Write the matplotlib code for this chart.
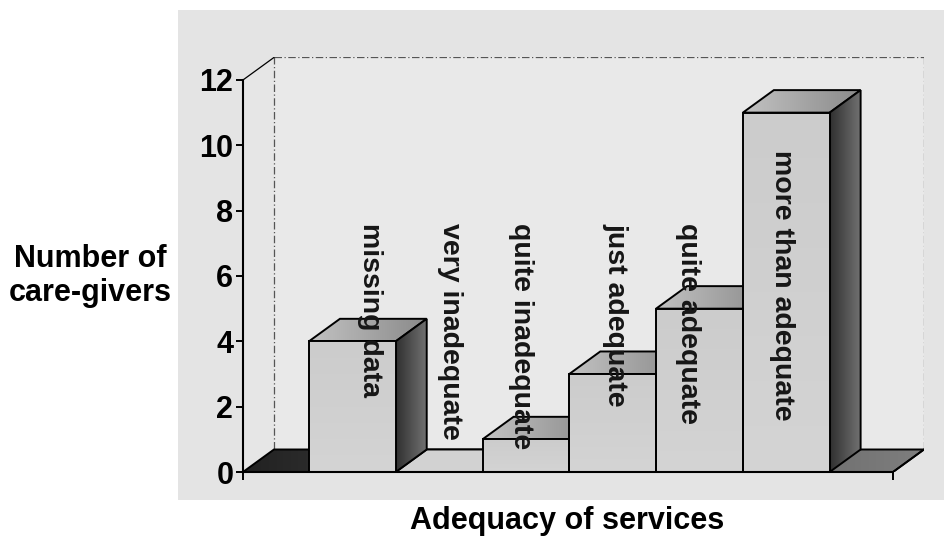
import matplotlib
matplotlib.use("Agg")
import matplotlib.pyplot as plt
from matplotlib.patches import Polygon, Rectangle
from matplotlib.colors import LinearSegmentedColormap
import numpy as np

# ---- data ----
categories = ["missing data", "very inadequate", "quite inadequate",
              "just adequate", "quite adequate", "more than adequate"]
counts = [4, 0, 1, 3, 5, 11]
y_ticks = [0, 2, 4, 6, 8, 10, 12]
x_title = "Adequacy of services"
y_title = "Number of\ncare-givers"

# ---- style / layout ----
plt.rcParams['font.family'] = ['Liberation Sans', 'DejaVu Sans']
W, H = 945, 537
fig = plt.figure(figsize=(W / 100, H / 100), dpi=100)
fig.patch.set_facecolor('white')
fig.patches.append(Rectangle((178 / W, 1 - 500 / H), (W - 178) / W, 490 / H,
                             transform=fig.transFigure, facecolor='#e4e4e4',
                             edgecolor='none', zorder=-5))

xmax = 7.49          # category axis length (data units)
ymax = 12
dx, dy = 0.357, 0.689  # 3D depth offset in data units
start = 0.76
bw = 1.0
px_x = 86.78
px_y = 32.67

ax = fig.add_axes([243 / W, 1 - 472 / H, (xmax + dx) * px_x / W, (ymax + dy) * px_y / H])
ax.patch.set_alpha(0)
ax.set_zorder(2)


def grad_poly(verts, c0, c1, direction='h', z=1, lw=1.4):
    poly = Polygon(verts, closed=True, facecolor='none', edgecolor='none', zorder=z)
    ax.add_patch(poly)
    xs = [v[0] for v in verts]
    ys = [v[1] for v in verts]
    g = np.linspace(0, 1, 128)
    arr = g[None, :] if direction == 'h' else g[:, None]
    cmap = LinearSegmentedColormap.from_list('g', [c0, c1])
    im = ax.imshow(arr, cmap=cmap, extent=(min(xs), max(xs), min(ys), max(ys)),
                   origin='lower', aspect='auto', interpolation='bilinear', zorder=z)
    im.set_clip_path(poly)
    ax.add_patch(Polygon(verts, closed=True, facecolor='none', edgecolor='black',
                         lw=lw, zorder=z + 0.01, joinstyle='miter'))


# walls
ax.add_patch(Polygon([(dx, dy), (xmax + dx, dy), (xmax + dx, ymax + dy), (dx, ymax + dy)],
                     facecolor='#e9e9e9', edgecolor='none', zorder=0.5))
ax.add_patch(Polygon([(0, 0), (dx, dy), (dx, ymax + dy), (0, ymax)],
                     facecolor='#e6e6e6', edgecolor='none', zorder=0.5))
wall_kw = dict(color='#555555', lw=0.9, ls=(0, (6, 2, 1, 2)), zorder=0.8)
ax.plot([dx, dx], [dy, ymax + dy], **wall_kw)
ax.plot([dx, xmax + dx], [ymax + dy, ymax + dy], **wall_kw)
ax.plot([xmax + dx, xmax + dx], [dy, ymax + dy], **wall_kw)
ax.plot([0, dx], [ymax, ymax + dy], color='black', lw=0.9, zorder=0.8)

# floor
grad_poly([(0, 0), (xmax, 0), (xmax + dx, dy), (dx, dy)], '#222222', '#7e7e7e', 'h', z=1)

# bars: tops, then sides, then fronts
lefts = [start + i * bw for i in range(len(counts))]
for x0, h in zip(lefts, counts):
    x1 = x0 + bw
    verts = [(x0, h), (x1, h), (x1 + dx, h + dy), (x0 + dx, h + dy)]
    if h == 0:
        ax.add_patch(Polygon(verts, closed=True, facecolor='#d2d2d2', edgecolor='black',
                             lw=1.4, zorder=2))
    else:
        grad_poly(verts, '#c2c2c2', '#8a8a8a', 'h', z=2)
for x0, h in zip(lefts, counts):
    x1 = x0 + bw
    if h > 0:
        grad_poly([(x1, 0), (x1 + dx, dy), (x1 + dx, h + dy), (x1, h)],
                  '#303030', '#727272', 'h', z=3)
for x0, h in zip(lefts, counts):
    x1 = x0 + bw
    if h > 0:
        grad_poly([(x0, 0), (x1, 0), (x1, h), (x0, h)], '#d4d4d4', '#cccccc', 'v', z=4)

# category labels written inside the bars
label_shift = [0.20, 0.12, -0.06, 0.03, -0.13, -0.05]
label_top = [7.62, 7.62, 7.62, 7.62, 7.62, 9.86]
for x0, name, s, t in zip(lefts, categories, label_shift, label_top):
    ax.text(x0 + bw / 2 + s, t, name, rotation=270, ha='center', va='top',
            fontsize=20.5, fontweight='bold', color='#161616', zorder=6)

# axes
ax.set_xlim(0, xmax + dx)
ax.set_ylim(0, ymax + dy)
for sp in ['top', 'right']:
    ax.spines[sp].set_visible(False)
ax.spines['left'].set_bounds(0, ymax)
ax.spines['bottom'].set_bounds(0, xmax)
ax.spines['left'].set_linewidth(1.5)
ax.spines['bottom'].set_linewidth(1.5)
ax.spines['left'].set_zorder(5)
ax.spines['bottom'].set_zorder(5)
ax.plot([xmax, xmax + dx], [0, dy], color='black', lw=1.3, zorder=5)
ax.set_yticks(y_ticks)
ax.set_yticklabels([str(v) for v in y_ticks], fontweight='bold')
ax.set_xticks([0, xmax])
ax.set_xticklabels(['', ''])
ax.tick_params(axis='y', direction='out', length=5, width=1.4, labelsize=22, pad=2)
ax.tick_params(axis='x', direction='out', length=6, width=1.4)

fig.text(90 / W, 1 - 276 / H, y_title, ha='center', va='center', fontsize=22,
         fontweight='bold', linespacing=1.15)
fig.text(567 / W, 1 - 521 / H, x_title, ha='center', va='center', fontsize=22,
         fontweight='bold')

fig.savefig('out.png', dpi=100)
